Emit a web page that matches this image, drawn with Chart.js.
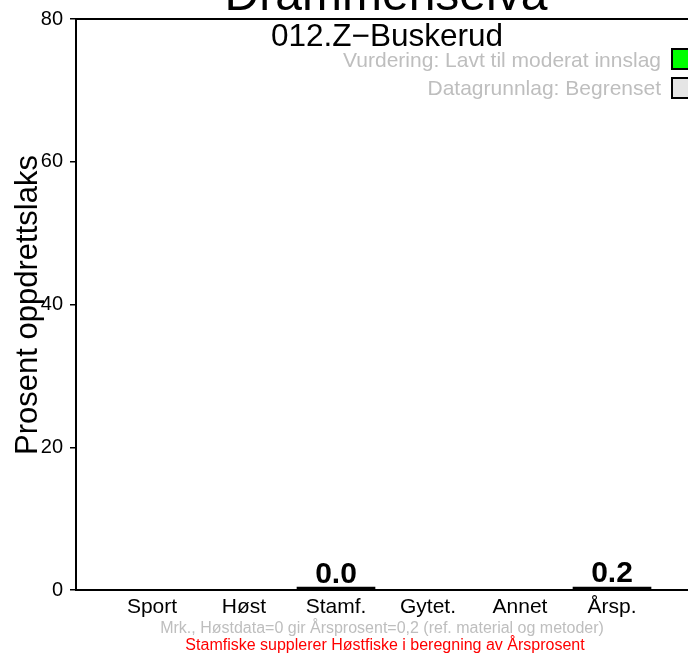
<!DOCTYPE html>
<html>
<head>
<meta charset="utf-8">
<script src="https://cdn.jsdelivr.net/npm/chart.js@4/dist/chart.umd.min.js"></script>
<style>
  html, body { margin: 0; padding: 0; background: #fff; }
  #wrap { width: 688px; height: 654px; }
</style>
</head>
<body>
<div id="wrap"><canvas id="chart" width="688" height="654"></canvas></div>
<script>
// data
var categories = ['Sport', 'Høst', 'Stamf.', 'Gytet.', 'Annet', 'Årsp.'];
var positions = [1, 2, 3, 4, 5, 6];
var values = [null, null, 0.0, null, null, 0.2];
var valueLabels = [null, null, '0.0', null, null, '0.2'];
var yTicks = [0, 20, 40, 60, 80];
var legendTexts = ['Vurdering: Lavt til moderat innslag', 'Datagrunnlag: Begrenset'];
var legendColors = ['#00ff00', '#e5e5e5'];

var FONT = '"Liberation Sans", Arial, sans-serif';

var barData = [];
for (var k = 0; k < positions.length; k++) {
  barData.push({ x: positions[k], y: values[k] });
}

var extras = {
  id: 'extras',
  afterDraw: function(chart) {
    var c = chart.ctx;
    var area = chart.chartArea;
    var ys = chart.scales.y;
    c.save();

    // top frame line
    c.strokeStyle = '#000';
    c.lineWidth = 2;
    c.beginPath();
    c.moveTo(area.left, area.top);
    c.lineTo(area.right, area.top);
    c.stroke();

    // title (partly outside the picture)
    c.fillStyle = '#000';
    c.textAlign = 'center';
    c.textBaseline = 'alphabetic';
    c.font = '48px ' + FONT;
    c.fillText('Drammenselva', 386, 10);
    c.font = '31.5px ' + FONT;
    c.fillText('012.Z\u2212Buskerud', 387, 46);

    // legend
    c.font = '21px ' + FONT;
    c.textAlign = 'right';
    for (var i = 0; i < legendTexts.length; i++) {
      var yy = 58 + i * 28;
      c.fillStyle = '#bebebe';
      c.fillText(legendTexts[i], 661, yy + 9);
      c.fillStyle = legendColors[i];
      c.fillRect(672, yy - 9 + (i ? 1 : 0), 20, 20);
      c.strokeStyle = '#000';
      c.lineWidth = 2;
      c.strokeRect(672, yy - 9 + (i ? 1 : 0), 20, 20);
    }

    // value labels above bars
    var meta = chart.getDatasetMeta(0);
    c.fillStyle = '#000';
    c.textAlign = 'center';
    c.font = 'bold 30px ' + FONT;
    for (var j = 0; j < valueLabels.length; j++) {
      if (valueLabels[j] === null) continue;
      var el = meta.data[j];
      c.fillText(valueLabels[j], el.x, ys.getPixelForValue(values[j]) - 7);
    }

    // y axis title
    c.save();
    c.translate(37, 305);
    c.rotate(-Math.PI / 2);
    c.font = '31px ' + FONT;
    c.fillText('Prosent oppdrettslaks', 0, 0);
    c.restore();

    // footer notes
    c.font = '16px ' + FONT;
    c.fillStyle = '#bebebe';
    c.fillText('Mrk., Høstdata=0 gir Årsprosent=0,2 (ref. material og metoder)', 382, 633);
    c.fillStyle = '#ff0000';
    c.fillText('Stamfiske supplerer Høstfiske i beregning av Årsprosent', 385, 650);

    c.restore();
  }
};

var ctx = document.getElementById('chart').getContext('2d');
var myChart = new Chart(ctx, {
  type: 'bar',
  data: {
    datasets: [{
      data: barData,
      backgroundColor: '#000',
      borderWidth: 0,
      barThickness: 78,
      minBarLength: 3,
      clip: false
    }]
  },
  options: {
    responsive: false,
    animation: false,
    events: [],
    layout: { padding: { top: 18, left: 0, right: 0, bottom: 0 } },
    plugins: {
      legend: { display: false },
      title: { display: false },
      tooltip: { enabled: false }
    },
    scales: {
      x: {
        type: 'linear',
        offset: false,
        min: 0.174,
        max: 6.826,
        afterFit: function(s) { s.height = 64; },
        afterBuildTicks: function(s) {
          s.ticks = positions.map(function(p) { return { value: p }; });
        },
        ticks: {
          autoSkip: false,
          maxRotation: 0,
          padding: 5,
          color: '#000',
          font: { family: FONT, size: 21 },
          callback: function(v) {
            var idx = positions.indexOf(v);
            return idx >= 0 ? categories[idx] : '';
          }
        },
        grid: { display: false, drawTicks: false },
        border: { display: true, color: '#000', width: 2 }
      },
      y: {
        min: 0,
        max: 80,
        afterFit: function(s) { s.width = 76; },
        afterBuildTicks: function(s) {
          s.ticks = yTicks.map(function(v) { return { value: v }; });
        },
        ticks: {
          padding: 7,
          color: '#000',
          font: { family: FONT, size: 20 }
        },
        grid: {
          display: true,
          drawOnChartArea: false,
          drawTicks: true,
          tickLength: 6,
          color: '#000',
          lineWidth: 1.5
        },
        border: { display: true, color: '#000', width: 2 }
      }
    }
  },
  plugins: [extras]
});
</script>
</body>
</html>
